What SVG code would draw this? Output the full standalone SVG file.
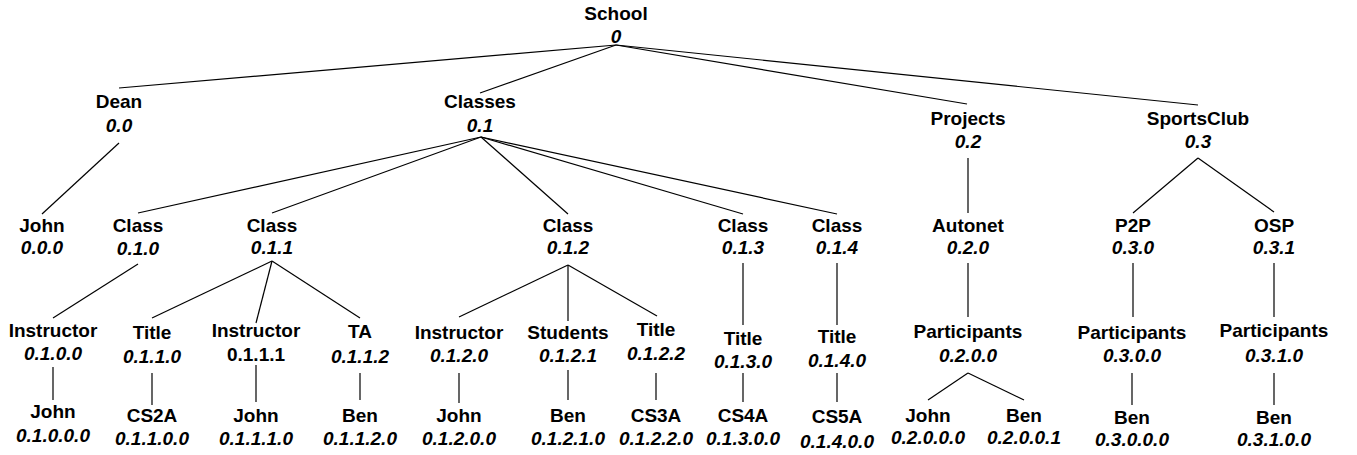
<svg xmlns="http://www.w3.org/2000/svg" width="1357" height="455" viewBox="0 0 1357 455">
<style>
text{font-family:"Liberation Sans",Arial,sans-serif;font-size:19px;font-weight:bold;text-anchor:middle;fill:#000}
text.id{font-style:italic}
text.id.plain{font-style:normal}
#edges line{stroke:#000;stroke-width:1.2}
</style>
<rect width="1357" height="455" fill="#fff"/>
<g id="edges">
<line x1="616" y1="45" x2="119" y2="88"/>
<line x1="616" y1="45" x2="480" y2="93"/>
<line x1="616" y1="45" x2="967" y2="104"/>
<line x1="616" y1="45" x2="1198" y2="105"/>
<line x1="119" y1="143" x2="42" y2="214"/>
<line x1="481" y1="137" x2="138" y2="213"/>
<line x1="481" y1="137" x2="272" y2="213"/>
<line x1="481" y1="137" x2="568" y2="214"/>
<line x1="481" y1="137" x2="743" y2="214"/>
<line x1="481" y1="137" x2="837" y2="214"/>
<line x1="968" y1="158" x2="968" y2="213"/>
<line x1="1198" y1="158" x2="1133" y2="213"/>
<line x1="1198" y1="158" x2="1274" y2="212"/>
<line x1="138" y1="264" x2="53" y2="318"/>
<line x1="272" y1="261" x2="152" y2="318"/>
<line x1="272" y1="261" x2="256" y2="323"/>
<line x1="272" y1="261" x2="360" y2="318"/>
<line x1="568" y1="265" x2="459" y2="317"/>
<line x1="568" y1="265" x2="568" y2="321"/>
<line x1="568" y1="265" x2="657" y2="316"/>
<line x1="743" y1="263" x2="743" y2="325"/>
<line x1="837" y1="263" x2="837" y2="325"/>
<line x1="968" y1="263" x2="968" y2="317"/>
<line x1="1133" y1="263" x2="1133" y2="317"/>
<line x1="1274" y1="263" x2="1274" y2="317"/>
<line x1="53" y1="367" x2="53" y2="400"/>
<line x1="152" y1="373" x2="152" y2="405"/>
<line x1="256" y1="365" x2="256" y2="402"/>
<line x1="360" y1="373" x2="360" y2="400"/>
<line x1="459" y1="373" x2="459" y2="403"/>
<line x1="568" y1="370" x2="568" y2="400"/>
<line x1="656" y1="373" x2="656" y2="400"/>
<line x1="743" y1="373" x2="743" y2="402"/>
<line x1="837" y1="373" x2="837" y2="402"/>
<line x1="968" y1="373" x2="928" y2="400"/>
<line x1="968" y1="373" x2="1024" y2="400"/>
<line x1="1132" y1="373" x2="1132" y2="405"/>
<line x1="1274" y1="373" x2="1274" y2="405"/>
</g>
<g id="n0"><text x="616" y="20">School</text><text class="id" x="616" y="43">0</text></g>
<g id="n0_0"><text x="119" y="108">Dean</text><text class="id" x="119" y="132">0.0</text></g>
<g id="n0_1"><text x="480" y="108">Classes</text><text class="id" x="480" y="132">0.1</text></g>
<g id="n0_2"><text x="968" y="125">Projects</text><text class="id" x="968" y="148">0.2</text></g>
<g id="n0_3"><text x="1198" y="125">SportsClub</text><text class="id" x="1198" y="148">0.3</text></g>
<g id="n0_0_0"><text x="42" y="232">John</text><text class="id" x="42" y="254">0.0.0</text></g>
<g id="n0_1_0"><text x="138" y="232">Class</text><text class="id" x="138" y="255">0.1.0</text></g>
<g id="n0_1_1"><text x="272" y="232">Class</text><text class="id" x="272" y="254">0.1.1</text></g>
<g id="n0_1_2"><text x="568" y="232">Class</text><text class="id" x="568" y="254">0.1.2</text></g>
<g id="n0_1_3"><text x="743" y="232">Class</text><text class="id" x="743" y="254">0.1.3</text></g>
<g id="n0_1_4"><text x="837" y="232">Class</text><text class="id" x="837" y="254">0.1.4</text></g>
<g id="n0_2_0"><text x="968" y="232">Autonet</text><text class="id" x="968" y="254">0.2.0</text></g>
<g id="n0_3_0"><text x="1133" y="232">P2P</text><text class="id" x="1133" y="254">0.3.0</text></g>
<g id="n0_3_1"><text x="1274" y="232">OSP</text><text class="id" x="1274" y="254">0.3.1</text></g>
<g id="n0_1_0_0"><text x="53" y="337">Instructor</text><text class="id" x="53" y="360">0.1.0.0</text></g>
<g id="n0_1_1_0"><text x="152" y="339">Title</text><text class="id" x="152" y="363">0.1.1.0</text></g>
<g id="n0_1_1_1"><text x="256" y="337">Instructor</text><text class="id plain" x="256" y="361">0.1.1.1</text></g>
<g id="n0_1_1_2"><text x="360" y="338">TA</text><text class="id" x="360" y="363">0.1.1.2</text></g>
<g id="n0_1_2_0"><text x="459" y="339">Instructor</text><text class="id" x="459" y="362">0.1.2.0</text></g>
<g id="n0_1_2_1"><text x="568" y="339">Students</text><text class="id" x="568" y="362">0.1.2.1</text></g>
<g id="n0_1_2_2"><text x="656" y="336">Title</text><text class="id" x="656" y="360">0.1.2.2</text></g>
<g id="n0_1_3_0"><text x="743" y="345">Title</text><text class="id" x="743" y="368">0.1.3.0</text></g>
<g id="n0_1_4_0"><text x="837" y="343">Title</text><text class="id" x="837" y="367">0.1.4.0</text></g>
<g id="n0_2_0_0"><text x="968" y="338">Participants</text><text class="id" x="968" y="362">0.2.0.0</text></g>
<g id="n0_3_0_0"><text x="1132" y="339">Participants</text><text class="id" x="1132" y="362">0.3.0.0</text></g>
<g id="n0_3_1_0"><text x="1274" y="337">Participants</text><text class="id" x="1274" y="362">0.3.1.0</text></g>
<g id="n0_1_0_0_0"><text x="53" y="418">John</text><text class="id" x="53" y="442">0.1.0.0.0</text></g>
<g id="n0_1_1_0_0"><text x="152" y="422">CS2A</text><text class="id" x="152" y="445">0.1.1.0.0</text></g>
<g id="n0_1_1_1_0"><text x="256" y="422">John</text><text class="id" x="256" y="445">0.1.1.1.0</text></g>
<g id="n0_1_1_2_0"><text x="360" y="422">Ben</text><text class="id" x="360" y="445">0.1.1.2.0</text></g>
<g id="n0_1_2_0_0"><text x="459" y="422">John</text><text class="id" x="459" y="445">0.1.2.0.0</text></g>
<g id="n0_1_2_1_0"><text x="568" y="422">Ben</text><text class="id" x="568" y="445">0.1.2.1.0</text></g>
<g id="n0_1_2_2_0"><text x="656" y="422">CS3A</text><text class="id" x="656" y="445">0.1.2.2.0</text></g>
<g id="n0_1_3_0_0"><text x="743" y="422">CS4A</text><text class="id" x="743" y="445">0.1.3.0.0</text></g>
<g id="n0_1_4_0_0"><text x="837" y="423">CS5A</text><text class="id" x="837" y="448">0.1.4.0.0</text></g>
<g id="n0_2_0_0_0"><text x="928" y="422">John</text><text class="id" x="928" y="444">0.2.0.0.0</text></g>
<g id="n0_2_0_0_1"><text x="1024" y="422">Ben</text><text class="id" x="1024" y="444">0.2.0.0.1</text></g>
<g id="n0_3_0_0_0"><text x="1132" y="424">Ben</text><text class="id" x="1132" y="446">0.3.0.0.0</text></g>
<g id="n0_3_1_0_0"><text x="1274" y="424">Ben</text><text class="id" x="1274" y="446">0.3.1.0.0</text></g>
</svg>
